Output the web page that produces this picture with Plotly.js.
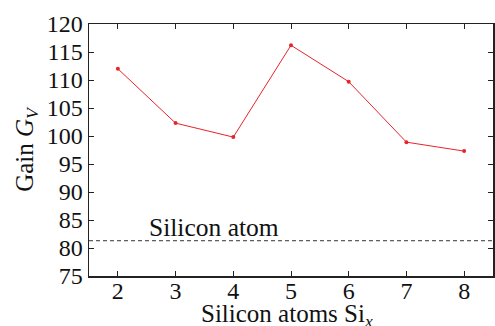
<!DOCTYPE html>
<html>
<head>
<meta charset="utf-8">
<script src="https://cdn.plot.ly/plotly-3.0.1.min.js"></script>
<style>
  html, body { margin: 0; padding: 0; background: #fff; }
  #chart { width: 495px; height: 326px; }
</style>
</head>
<body>
<div id="chart"></div>
<script>
// Number of silicon atoms in the cluster
const atoms = [2, 3, 4, 5, 6, 7, 8];
// Voltage gain for each cluster size
const gain = [112.0, 102.3, 99.8, 116.2, 109.7, 98.9, 97.3];
// Reference gain of a single silicon atom
const singleAtomGain = 81.3;
const xTicks = [2, 3, 4, 5, 6, 7, 8];
const yTicks = [75, 80, 85, 90, 95, 100, 105, 110, 115, 120];

const serif = 'Liberation Serif';

const traces = [
  {
    x: [1.5, 8.5],
    y: [singleAtomGain, singleAtomGain],
    mode: 'lines',
    line: { color: '#333333', width: 1, dash: '4px,3px' },
    hoverinfo: 'skip',
    showlegend: false
  },
  {
    x: atoms,
    y: gain,
    mode: 'lines+markers',
    line: { color: '#e8242b', width: 1 },
    marker: { color: '#e8242b', size: 4 },
    showlegend: false
  }
];

const axisCommon = {
  showgrid: false,
  zeroline: false,
  showline: true,
  linecolor: '#222222',
  linewidth: 1.5,
  mirror: 'ticks',
  ticks: 'inside',
  ticklen: 5,
  tickwidth: 1,
  tickcolor: '#222222',
  tickfont: { family: serif, size: 24, color: '#111111' }
};

const layout = {
  width: 495,
  height: 326,
  margin: { l: 89, r: 2, t: 24, b: 50 },
  paper_bgcolor: '#ffffff',
  plot_bgcolor: '#ffffff',
  font: { family: serif, color: '#111111' },
  xaxis: Object.assign({}, axisCommon, {
    range: [1.5, 8.5],
    tickvals: xTicks,
    ticktext: xTicks.map(String),
    ticklabelstandoff: -7
  }),
  yaxis: Object.assign({}, axisCommon, {
    range: [75, 120],
    tickvals: yTicks,
    ticktext: yTicks.map(String),
    title: { text: 'Gain <i>G</i><sub><i>V</i></sub>', font: { family: serif, size: 25 }, standoff: 6 }
  }),
  annotations: [
    {
      x: 2.5, y: singleAtomGain,
      xref: 'x', yref: 'y',
      xanchor: 'left', yanchor: 'bottom',
      text: 'Silicon atom',
      showarrow: false,
      yshift: -3,
      font: { family: serif, size: 25.5, color: '#111111' }
    },
    {
      // x-axis title, placed below the tick labels
      x: 0.5, y: 0,
      xref: 'paper', yref: 'paper',
      xanchor: 'center', yanchor: 'top',
      text: 'Silicon atoms Si<sub><i>x</i></sub>',
      showarrow: false,
      xshift: -4,
      yshift: -22,
      font: { family: serif, size: 25, color: '#111111' }
    }
  ]
};

Plotly.newPlot('chart', traces, layout, { staticPlot: true, displayModeBar: false });
</script>
</body>
</html>
